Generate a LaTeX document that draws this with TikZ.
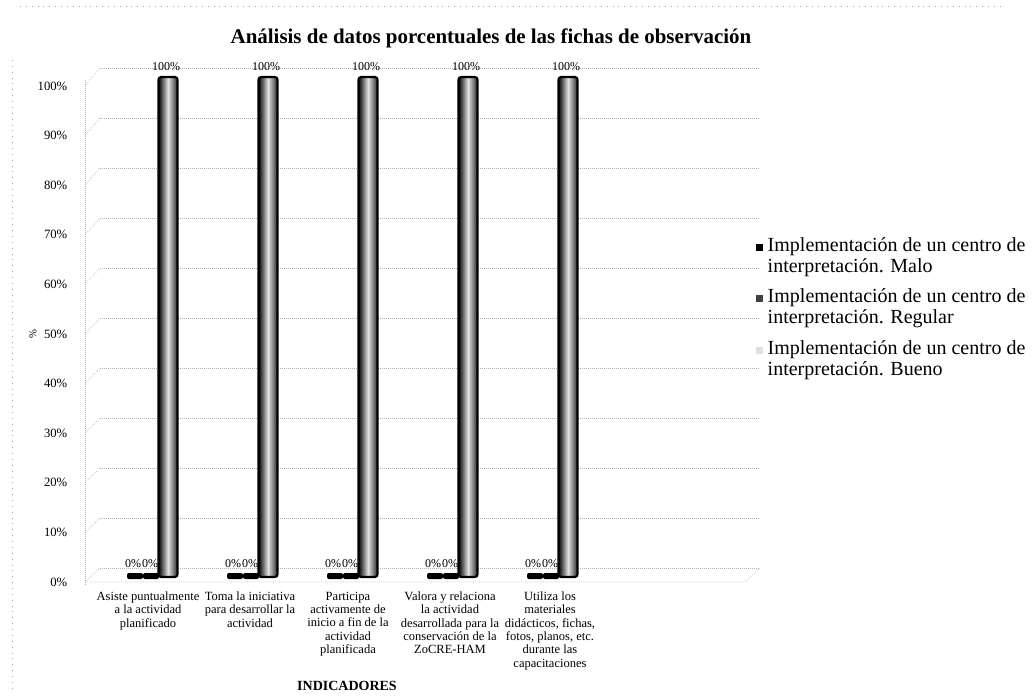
\documentclass[tikz,border=0pt]{standalone}
\usepackage{fontspec}
\setmainfont{Liberation Serif}
\usetikzlibrary{backgrounds,positioning}

\tikzset{
    tick label/.style={anchor=east, font=\fontsize{9.5}{11}\selectfont},
    grid line/.style={densely dotted, gray!60, line width=0.5pt},
    cylinder bar/.style={draw=black, line width=1.6pt, rounded corners=2pt,
        left color=black, right color=black!85, middle color=gray!22},
    flat bar/.style={fill=black, rounded corners=1.5pt},
    data label/.style={font=\fontsize{9}{10}\selectfont},
    category/.style={anchor=north, align=center,
        font=\fontsize{9.4}{10}\selectfont},
    legend text/.style={anchor=west, align=left,
        font=\fontsize{15}{15.75}\selectfont}
}

\begin{document}
\begin{tikzpicture}
    [x=0.75pt, y=-0.75pt]
    \useasboundingbox (0,0) rectangle (1034,698);

    % Scan frame
    \draw [loosely dotted, gray!70] (20,6) -- (1000,6);
    \draw [loosely dotted, gray!70] (12,60) -- (12,690);

    % Title
    \node [font=\bfseries\fontsize{15.7}{17}\selectfont]
        (title) at (491,38) {Análisis de datos porcentuales de las fichas de observación};

    % Back wall grid and axis
    \foreach \v in {0,10,...,100}{
        \draw [grid line] (100,{568-5*\v}) -- (760,{568-5*\v});
        \draw [grid line] (85,{582-4.96*\v}) -- (100,{568-5*\v});
        \node [tick label] (tick\v) at (72,{582-4.96*\v}) {\v\%};
    }
    \draw [grid line] (85,80) -- (85,585);
    \draw [grid line] (85,582) -- (745,582) -- (760,568);

    % Axis titles
    \node [rotate=90, font=\fontsize{8}{9}\selectfont] (ytitle) at (33,334) {\%};
    \node [font=\bfseries\fontsize{10.5}{11}\selectfont] (xtitle) at (347,686) {INDICADORES};

    % Bars
    \foreach \i/\xc in {1/168,2/268,3/368,4/468,5/568}{
        \fill [flat bar] ({\xc-41},573) rectangle ({\xc-25},579);
        \fill [flat bar] ({\xc-25},573) rectangle ({\xc-9},579);
        \draw [cylinder bar] ({\xc-9.5},577) rectangle ({\xc+9.5},77);
        \node [data label] (bueno\i) at ({\xc-2},67) {100\%};
        \node [data label] (malo\i) at ({\xc-35},564) {0\%};
        \node [data label] (regular\i) at ({\xc-18},564) {0\%};
    }

    % Categories
    \node [category] (cat1) at (148,587) {Asiste puntualmente\\a la actividad\\planificado};
    \node [category] (cat2) at (250,587) {Toma la iniciativa\\para desarrollar la\\actividad};
    \node [category] (cat3) at (348,587) {Participa\\activamente de\\inicio a fin de la\\actividad\\planificada};
    \node [category] (cat4) at (450,587) {Valora y relaciona\\la actividad\\desarrollada para la\\conservación de la\\ZoCRE-HAM};
    \node [category] (cat5) at (550,587) {Utiliza los\\materiales\\didácticos, fichas,\\fotos, planos, etc.\\durante las\\capacitaciones};

    % Legend
    \fill [black] (756,244) rectangle (763,251);
    \fill [black!75] (756,295) rectangle (763,302);
    \fill [gray!25] (756,347) rectangle (763,354);
    \node [legend text] (leg1) at (763,257) {Implementación de un centro de\\interpretación. Malo};
    \node [legend text] (leg2) at (763,308) {Implementación de un centro de\\interpretación. Regular};
    \node [legend text] (leg3) at (763,360) {Implementación de un centro de\\interpretación. Bueno};
\end{tikzpicture}
\end{document}
